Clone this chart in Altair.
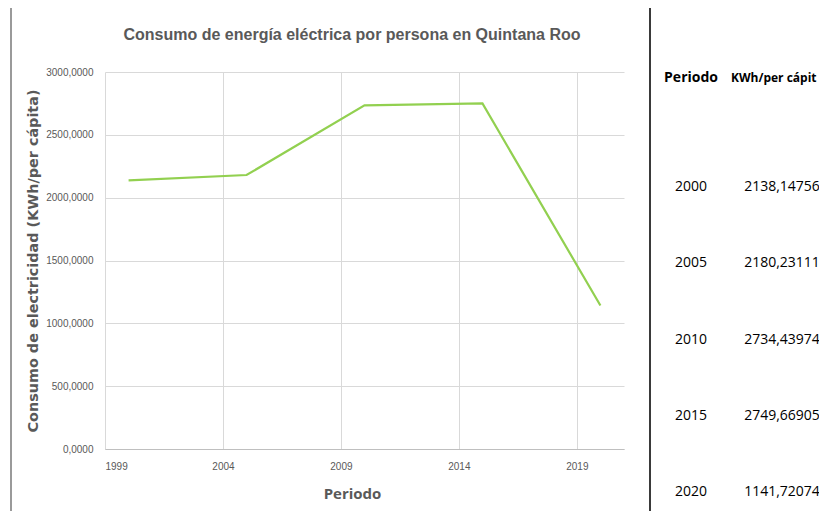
import altair as alt
import pandas as pd

periodo = [2000, 2005, 2010, 2015, 2020]
kwh = [2138.14756, 2180.23111, 2734.43974, 2749.66905, 1141.72074]
headers = ["Periodo", "KWh/per cápit"]
title_text = "Consumo de energía eléctrica por persona en Quintana Roo"
y_title = "Consumo de electricidad (KWh/per cápita)"
x_title = "Periodo"

df = pd.DataFrame({"Periodo": periodo, "kwh": kwh})

W, H = 519, 377
GRAY = "#595959"
SANS = "Liberation Sans, Arial, sans-serif"
OPEN = "Open Sans, sans-serif"

base = alt.Chart(df)

line = base.mark_line(color="#92D050", strokeWidth=2.2).encode(
    x=alt.X("Periodo:Q",
            scale=alt.Scale(domain=[1999, 2021], nice=False, zero=False),
            axis=alt.Axis(values=[1999, 2004, 2009, 2014, 2019], format="d",
                          title=x_title, titleFont=OPEN, titleFontSize=15,
                          titleFontWeight="bold", titleColor=GRAY,
                          titleX=247, titleY=44, titleBaseline="middle",
                          labelFont=SANS, labelFontSize=10, labelColor=GRAY,
                          labelPadding=12, ticks=False, domainColor="#BFBFBF",
                          gridColor="#D9D9D9", grid=True)),
    y=alt.Y("kwh:Q",
            scale=alt.Scale(domain=[0, 3000], nice=False),
            axis=alt.Axis(values=[0, 500, 1000, 1500, 2000, 2500, 3000],
                          labelExpr="replace(format(datum.value, '.4f'), '.', ',')",
                          title=y_title, titleFont="DejaVu Sans", titleFontSize=14.4,
                          titleFontWeight="bold", titleColor=GRAY,
                          titleX=-72, titleY=188.5, titleAngle=-90,
                          titleBaseline="middle", titleAlign="center",
                          labelFont=SANS, labelFontSize=10, labelColor=GRAY,
                          labelPadding=12, ticks=False, domain=False,
                          gridColor="#D9D9D9", grid=True)),
)

title = alt.Chart(pd.DataFrame({"t": [title_text]})).mark_text(
    font=SANS, fontSize=16, fontWeight="bold", color=GRAY,
    align="center", baseline="middle"
).encode(x=alt.value(247), y=alt.value(-37), text="t:N")

hdr1 = alt.Chart(pd.DataFrame({"h": [headers[0]]})).mark_text(
    font=OPEN, fontSize=14, fontWeight="bold", color="#000000",
    align="center", baseline="middle"
).encode(x=alt.value(586), y=alt.value(6), text="h:N")
hdr2 = alt.Chart(pd.DataFrame({"h": [headers[1]]})).mark_text(
    font=OPEN, fontSize=12, fontWeight="bold", color="#000000",
    align="left", baseline="middle"
).encode(x=alt.value(626), y=alt.value(6), text="h:N")

tbl_scale = alt.Scale(domain=[2000, 2020], range=[115, 420])
col_year = base.mark_text(
    font=OPEN, fontSize=14, color="#000000", align="center", baseline="middle"
).encode(
    x=alt.value(586),
    y=alt.Y("Periodo:Q", scale=tbl_scale, axis=None),
    text=alt.Text("Periodo:Q", format="d"),
)
col_val = base.transform_calculate(
    lab="replace(format(datum.kwh, '.5f'), '.', ',')"
).mark_text(
    font=OPEN, fontSize=14, color="#000000", align="center", baseline="middle"
).encode(
    x=alt.value(677),
    y=alt.Y("Periodo:Q", scale=tbl_scale, axis=None),
    text="lab:N",
)

border_left = base.mark_rule(color="#9A9A9A", strokeWidth=2).encode(
    x=alt.value(-94), y=alt.value(-65), y2=alt.value(445))
border_top = base.mark_rule(color="#6E6E6E", strokeWidth=2).encode(
    x=alt.value(-94), x2=alt.value(716), y=alt.value(-65))
border_mid = base.mark_rule(color="#3A3A3A", strokeWidth=2).encode(
    x=alt.value(545), y=alt.value(-65), y2=alt.value(445))

chart = alt.layer(
    line, title, hdr1, hdr2, col_year, col_val,
    border_left, border_top, border_mid
).resolve_scale(
    x="independent", y="independent"
).properties(
    width=W, height=H,
    autosize=alt.AutoSizeParams(type="none"),
    padding={"left": 97, "top": 64, "right": 195, "bottom": 62},
    background="#FFFFFF",
).configure_view(stroke=None)

chart.save("out.html", embed_options={"renderer": "svg", "actions": False})
